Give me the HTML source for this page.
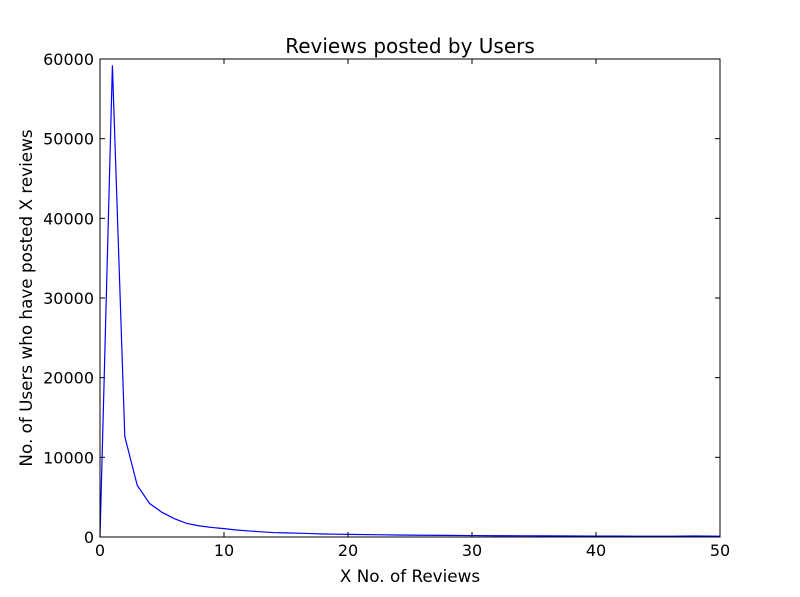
<!DOCTYPE html>
<html><head><meta charset="utf-8"><style>
body{margin:0;background:#fff;}
svg{display:block;font-family:"DejaVu Sans","Liberation Sans",sans-serif;}
</style></head><body>
<svg id="chart" width="800" height="597"></svg>
<script>
const xTicks=[0,10,20,30,40,50];
const yTicks=[0,10000,20000,30000,40000,50000,60000];
const xValues=[0,1,2,3,4,5,6,7,8,9,10,11,12,13,14,15,16,17,18,19,20,22,24,26,28,30,32,34,36,38,40,42,44,46,48,50];
const userCounts=[0,59200,12600,6500,4200,3100,2300,1700,1400,1200,1050,880,760,650,560,520,480,430,380,350,330,290,250,220,200,180,160,150,140,130,120,110,100,95,130,90];
const NS="http://www.w3.org/2000/svg";
const svg=document.getElementById('chart');
const L=100,R=720,T=59,B=537;
const xs=v=>L+(v-0)/50*(R-L);
const ys=v=>B-(v/60000)*(B-T);
function mk(tag,attrs){const e=document.createElementNS(NS,tag);for(const k in attrs)e.setAttribute(k,attrs[k]);svg.appendChild(e);return e;}
let d=xValues.map((x,i)=>(i?'L':'M')+xs(x)+','+ys(userCounts[i])).join(' ');
const line=mk('path',{d:d,fill:'none',stroke:'#0000ff','stroke-width':1.2});


const frame=mk('rect',{x:L,y:T,width:R-L,height:B-T,fill:'none',stroke:'#000','stroke-width':1});


xTicks.forEach(t=>{
 const x=xs(t);
 mk('line',{x1:x,x2:x,y1:B,y2:B-5,stroke:'#000'});
 mk('line',{x1:x,x2:x,y1:T,y2:T+5,stroke:'#000'});
 const tx=mk('text',{x:x,y:B+19,'text-anchor':'middle','font-size':16});
 tx.textContent=t;
 
 
});
yTicks.forEach(t=>{
 const y=ys(t);
 mk('line',{x1:L,x2:L+5,y1:y,y2:y,stroke:'#000'});
 mk('line',{x1:R,x2:R-5,y1:y,y2:y,stroke:'#000'});
 const tx=mk('text',{x:L-6,y:y+6,'text-anchor':'end','font-size':16});
 tx.textContent=t;
 
 
});
const title=mk('text',{x:410,y:53,'text-anchor':'middle','font-size':20});
title.textContent='Reviews posted by Users';


const xl=mk('text',{x:410,y:582,'text-anchor':'middle','font-size':16.8});
xl.textContent='X No. of Reviews';


const yl=mk('text',{x:32,y:298,'text-anchor':'middle','font-size':16.8,transform:'rotate(-90 32 298)'});
yl.textContent='No. of Users who have posted X reviews';


</script>
</body></html>
